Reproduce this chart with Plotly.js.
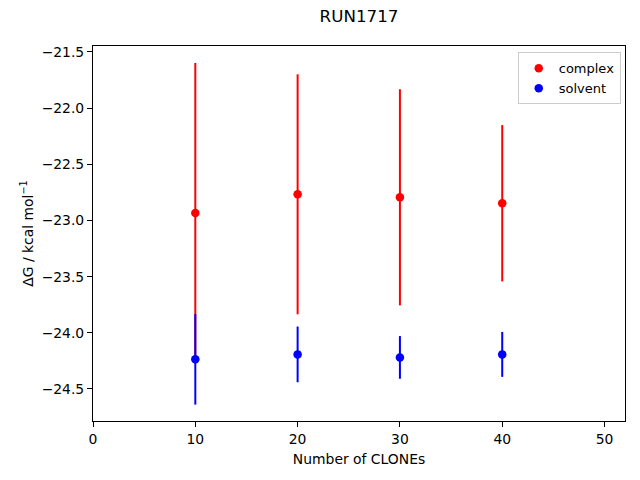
<!DOCTYPE html>
<html>
<head>
<meta charset="utf-8">
<script src="https://cdn.plot.ly/plotly-3.0.1.min.js"></script>
<style>html,body{margin:0;padding:0;background:#fff;}#chart{width:640px;height:480px;}</style>
</head>
<body>
<div id="chart"></div>
<script>
const clones = [10, 20, 30, 40];
const complexDG = [-22.934, -22.767, -22.794, -22.847];
const complexErr = [1.336, 1.068, 0.962, 0.696];
const solventDG = [-24.236, -24.192, -24.219, -24.192];
const solventErr = [0.403, 0.248, 0.19, 0.2];
const xTicks = [0, 10, 20, 30, 40, 50];
const yTicks = [-21.5, -22.0, -22.5, -23.0, -23.5, -24.0, -24.5];

const font = "DejaVu Sans, sans-serif";
const traces = [
  {x: clones, y: complexDG, name: 'complex', type: 'scatter', mode: 'markers',
   marker: {color: '#ff0000', size: 8.5},
   error_y: {type: 'data', array: complexErr, visible: true, color: '#ff0000', thickness: 2, width: 0}},
  {x: clones, y: solventDG, name: 'solvent', type: 'scatter', mode: 'markers',
   marker: {color: '#0000ff', size: 8.5},
   error_y: {type: 'data', array: solventErr, visible: true, color: '#0000ff', thickness: 2, width: 0}}
];
const layout = {
  width: 640, height: 480,
  paper_bgcolor: '#fff', plot_bgcolor: '#fff',
  margin: {l: 93, r: 15, t: 46, b: 59, pad: 0},
  font: {family: font, size: 13.9, color: '#000'},
  title: {text: 'RUN1717', x: 0.5, xref: 'paper', xanchor: 'center', y: 0.967, yref: 'container', yanchor: 'middle', font: {family: font, size: 16.7, color: '#000'}},
  showlegend: true,
  legend: {x: 0.992, xanchor: 'right', y: 0.983, yanchor: 'top', bgcolor: 'rgba(255,255,255,0.8)', bordercolor: '#cccccc', borderwidth: 1, font: {family: font, size: 13}, itemsizing: 'trace', itemwidth: 30},
  xaxis: {range: [0, 52], tickvals: xTicks, ticktext: xTicks.map(String), showgrid: false, zeroline: false,
          showline: true, linecolor: '#000', linewidth: 1, mirror: true, ticks: 'outside', ticklen: 5, tickcolor: '#000',
          title: {text: 'Number of CLONEs', font: {family: font, size: 13.9}, standoff: 8}},
  yaxis: {range: [-24.785, -21.447], tickvals: yTicks, ticktext: yTicks.map(v => v.toFixed(1).replace('-', '\u2212')), showgrid: false, zeroline: false,
          showline: true, linecolor: '#000', linewidth: 1, mirror: true, ticks: 'outside', ticklen: 5, tickcolor: '#000',
          title: {text: '\u0394G / kcal mol<sup>\u22121</sup>', font: {family: font, size: 13.9}, standoff: 4}}
};
Plotly.newPlot('chart', traces, layout, {displayModeBar: false, staticPlot: true});
</script>
</body>
</html>
